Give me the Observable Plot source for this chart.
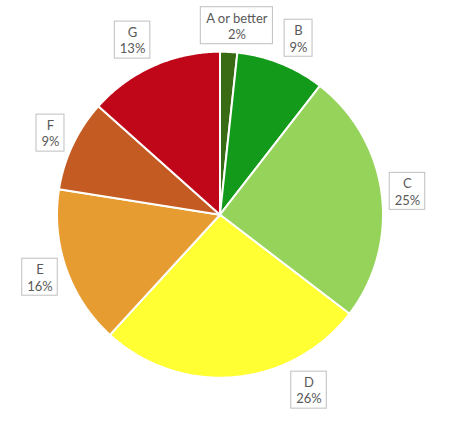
<!DOCTYPE html>
<html>
<head>
<meta charset="utf-8">
<script src="https://cdn.jsdelivr.net/npm/d3@7"></script>
<script src="https://cdn.jsdelivr.net/npm/@observablehq/plot@0.6"></script>
<style>
  html, body { margin: 0; padding: 0; background: #fff; }
  #chart svg { display: block; }
</style>
</head>
<body>
<div id="chart"></div>
<script>
// ---- data ----
const categories = ["A or better", "B", "C", "D", "E", "F", "G"];
const shares = [1.7, 8.8, 24.9, 26.4, 15.7, 9.1, 13.4];
const sliceColors = ["#386b14", "#149a1a", "#95d35a", "#ffff33", "#e69c31", "#c45b22", "#c00719"];

// ---- layout (label anchor positions, polar: degrees clockwise from top, radius in pie radii) ----
const labelAngles = [5.1, 24, 82.9, 153.1, 250.85, 295.7, 333.4];
const labelRadii = [1.164, 1.185, 1.159, 1.207, 1.169, 1.154, 1.198];

const W = 450, H = 426, cx = 219.5, cy = 214.2, R = 163;
const FONT = "Lato, 'Open Sans', sans-serif";
const FS = 13;

const total = d3.sum(shares);
// build slice polygons
const polyPts = [];
let acc = 0;
categories.forEach((c, i) => {
  const a0 = acc / total * 2 * Math.PI;
  acc += shares[i];
  const a1 = acc / total * 2 * Math.PI;
  polyPts.push({cat: c, x: 0, y: 0});
  const n = Math.max(2, Math.ceil((a1 - a0) / (Math.PI / 360)));
  for (let k = 0; k <= n; k++) {
    const a = a0 + (a1 - a0) * k / n;
    polyPts.push({cat: c, x: Math.sin(a), y: Math.cos(a)});
  }
});

// labels
const ctx = document.createElement("canvas").getContext("2d");
ctx.font = `${FS}px ${FONT}`;
const labels = categories.map((c, i) => {
  const a = labelAngles[i] * Math.PI / 180;
  const x = labelRadii[i] * Math.sin(a), y = labelRadii[i] * Math.cos(a);
  const pct = Math.round(shares[i] / total * 100) + "%";
  const text = `${c}\n${pct}`;
  const w = Math.max(ctx.measureText(c).width, ctx.measureText(pct).width) + 10;
  const h = 37;
  return {text, x, y, x1: x - w / 2 / R, x2: x + w / 2 / R, y1: y - h / 2 / R, y2: y + h / 2 / R};
});

const chart = Plot.plot({
  width: W,
  height: H,
  margin: 0,
  x: {domain: [-cx / R, (W - cx) / R], axis: null},
  y: {domain: [-(H - cy) / R, cy / R], axis: null},
  color: {type: "ordinal", domain: categories, range: sliceColors},
  style: {background: "#fff", fontFamily: FONT},
  marks: [
    Plot.line(polyPts, {x: "x", y: "y", z: "cat", fill: "cat", stroke: "#fff", strokeWidth: 2, curve: "linear-closed", strokeLinejoin: "round"}),
    Plot.rect(labels, {x1: "x1", x2: "x2", y1: "y1", y2: "y2", fill: "#fff", stroke: "#bfbfbf", strokeWidth: 1}),
    Plot.text(labels, {x: "x", y: "y", text: "text", fill: "#595959", fontSize: FS, lineHeight: 1.25, lineAnchor: "middle", textAnchor: "middle", fontFamily: FONT})
  ]
});
document.getElementById("chart").appendChild(chart);
</script>
</body>
</html>
